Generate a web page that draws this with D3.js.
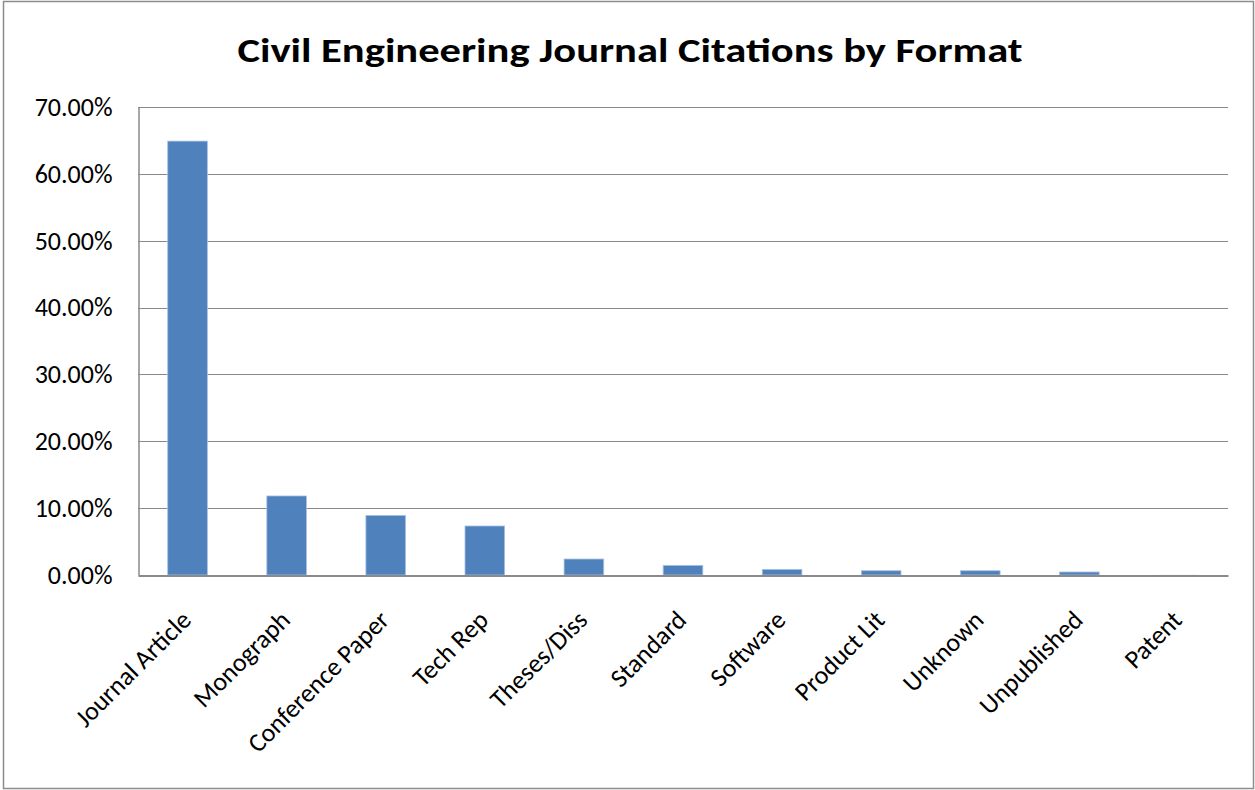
<!DOCTYPE html>
<html>
<head>
<meta charset="utf-8">
<script src="https://cdn.jsdelivr.net/npm/d3@7"></script>
<style>
  html, body { margin: 0; padding: 0; background: #fff; }
  svg { display: block; }
  text { font-family: Carlito, "Open Sans", "Liberation Sans", sans-serif; fill: #000; }
</style>
</head>
<body>
<svg id="chart" width="1255" height="790"></svg>
<script>
// Share of citations by document format
const categories = ["Journal Article", "Monograph", "Conference Paper", "Tech Rep", "Theses/Diss",
  "Standard", "Software", "Product Lit", "Unknown", "Unpublished", "Patent"];
const shares = [0.6490, 0.1182, 0.0891, 0.0733, 0.0239, 0.0144, 0.0084, 0.0064, 0.0064, 0.0045, 0.0001];
const yTicks = [0, 0.1, 0.2, 0.3, 0.4, 0.5, 0.6, 0.7];
const title = "Civil Engineering Journal Citations by Format";

const FONT = 'Carlito, "Open Sans", "Liberation Sans", sans-serif';
const svg = d3.select("#chart");
const W = 1255, H = 790;
const plot = { left: 138, right: 1228, top: 107, bottom: 575 };

// outer frame
svg.append("rect")
  .attr("x", 3.5).attr("y", 1.5).attr("width", W - 5).attr("height", H - 3)
  .attr("fill", "#fff").attr("stroke", "#8c8c8c").attr("stroke-width", 1.5);

svg.append("text")
  .attr("x", 630).attr("y", 62)
  .attr("text-anchor", "middle")
  .attr("font-size", 34).attr("font-weight", "bold")
  .attr("textLength", 785).attr("lengthAdjust", "spacingAndGlyphs")
  .text(title);

const x = d3.scaleBand().domain(categories)
  .range([plot.left, plot.right]).paddingInner(0.6).paddingOuter(0.3);
const y = d3.scaleLinear().domain([0, 0.7]).range([plot.bottom, plot.top]);

// horizontal gridlines
svg.append("g").selectAll("line").data(yTicks.filter(t => t > 0)).join("line")
  .attr("x1", plot.left).attr("x2", plot.right)
  .attr("y1", d => Math.round(y(d)) + 0.5).attr("y2", d => Math.round(y(d)) + 0.5)
  .attr("stroke", "#8a8a8a").attr("stroke-width", 1.2);

// y axis
const yAxis = d3.axisLeft(y).tickValues(yTicks).tickSize(0).tickPadding(26)
  .tickFormat(d3.format(".2%"));
const gy = svg.append("g").attr("transform", `translate(${plot.left + 0.5},0)`).call(yAxis);
gy.select(".domain").attr("stroke", "#8a8a8a").attr("stroke-width", 1.5);
gy.selectAll("text").attr("font-size", 26).attr("fill", "#000").style("font-family", FONT);

// bars
svg.append("g").selectAll("rect").data(categories).join("rect")
  .attr("x", d => x(d))
  .attr("width", x.bandwidth())
  .attr("y", (d, i) => y(shares[i]))
  .attr("height", (d, i) => y(0) - y(shares[i]))
  .attr("fill", "#4f81bd")
  .attr("stroke", (d, i) => (y(0) - y(shares[i]) > 1 ? "#a9c1e0" : "none"))
  .attr("stroke-width", 0.8);

// x axis with rotated category labels
const xAxis = d3.axisBottom(x).tickSize(0).tickPadding(0);
const gx = svg.append("g").attr("transform", `translate(0,${plot.bottom + 0.5})`).call(xAxis);
gx.select(".domain").attr("stroke", "#8a8a8a").attr("stroke-width", 2);
gx.selectAll("text")
  .attr("font-size", 26).attr("fill", "#000").style("font-family", FONT)
  .attr("text-anchor", "end")
  .attr("dy", 0)
  .attr("y", 0)
  .attr("transform", "translate(5,46) rotate(-45)");
</script>
</body>
</html>
